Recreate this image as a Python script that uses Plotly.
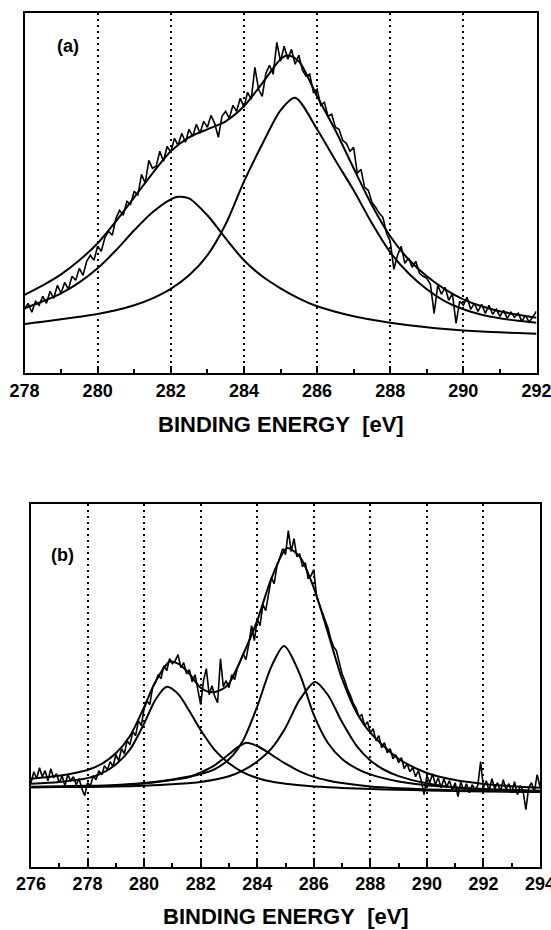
import plotly.graph_objects as go

# ---------------- Panel (a) ----------------
A_C1_X = [278, 278.5, 279, 279.5, 280, 280.5, 281, 281.5, 282, 282.2, 282.5, 283, 283.5, 284, 284.5,
          285, 285.5, 286, 286.5, 287, 287.5, 288, 288.5, 289, 289.5, 290, 290.5, 291, 291.5, 292]
A_C1_Y = [65, 72, 80, 91, 105, 123, 143, 161, 174, 176.5, 175, 158, 135, 113, 97,
          85, 75, 67, 61.5, 57, 53.5, 50.5, 48, 46, 44.2, 42.8, 41.8, 41, 40.3, 39.5]

A_C2_X = [278, 278.5, 279, 279.5, 280, 280.5, 281, 281.5, 282, 282.5, 283, 283.5, 284, 284.5, 285,
          285.4, 286, 286.5, 287, 287.5, 288, 288.5, 289, 289.5, 290, 290.5, 291, 291.5, 292]
A_C2_Y = [49.3, 51.5, 54, 56.5, 59.3, 63, 68, 75, 84.5, 98, 118, 149, 191.6, 229, 263,
          275.6, 244, 213, 183, 150, 121, 100, 84, 72, 64, 58.5, 55, 52.5, 50.5]

A_ENV_X = [278, 278.5, 279, 279.5, 280, 280.5, 281, 281.5, 282, 282.5, 283, 283.5, 284, 284.5, 285,
           285.2, 285.5, 286, 286.5, 287, 287.5, 288, 288.5, 289, 289.5, 290, 290.5, 291, 291.5, 292]
A_ENV_Y = [78.5, 88, 99, 113, 130, 152, 176, 200, 222, 236, 244, 252, 267, 290, 314,
           318, 312, 277, 243, 205, 168, 137, 114, 97, 84, 74, 67, 62, 58.5, 55.5]

A_DATA_X = [round(278 + 0.1 * i, 1) for i in range(141)]
A_DATA_Y = [64, 70, 61, 72, 68, 77, 70, 82, 75, 88,
            80, 91, 84, 97, 93, 105, 98, 112, 118, 113,
            127, 122, 136, 142, 138, 155, 163, 158, 172, 169,
            182, 178, 199, 190, 213, 205, 207, 222, 212, 227,
            221, 235, 228, 240, 231, 244, 237, 249, 240, 252,
            246, 258, 250, 236, 257, 262, 255, 268, 262, 275,
            266, 281, 274, 306, 284, 277, 300, 308, 299, 331,
            312, 327, 314, 324, 309, 318, 303, 297, 299, 281,
            284, 268, 271, 257, 259, 246, 244, 233, 230, 222,
            226, 200, 204, 186, 183, 171, 166, 160, 156, 140,
            132, 104, 118, 127, 110, 115, 106, 112, 100, 97,
            95, 89, 60, 88, 79, 86, 73, 80, 50, 72,
            68, 76, 64, 70, 62, 69, 60, 68, 59, 64,
            57, 63, 55, 61, 56, 60, 52, 58, 51, 56,
            62]

# ---------------- Panel (b) ----------------
B_CA_X = [276, 277, 278, 278.5, 279, 279.5, 280, 280.4, 280.8, 281.2, 281.6, 282, 282.5, 283, 283.5,
          284, 284.5, 285, 285.5, 286, 286.5, 287, 287.5, 288, 289, 290, 291, 292, 293, 294]
B_CA_Y = [83, 84.8, 88.6, 93.4, 102.3, 117.2, 143.1, 167, 179.9, 172.8, 155.7, 136.7, 116.6, 103.4, 94.3,
          88.7, 85.1, 83, 81.4, 80.3, 79.5, 78.8, 78.2, 77.7, 76.9, 76.3, 75.8, 75.3, 74.9, 74.6]

B_CB_X = [276, 277, 278, 279, 280, 280.8, 281.6, 282, 282.5, 283, 283.3, 283.6, 284, 284.5, 285,
          285.5, 286, 286.5, 287, 288, 289, 290, 291, 292, 293, 294]
B_CB_Y = [79.5, 79.7, 80.2, 81.1, 83.1, 85.9, 89.7, 94.2, 101.6, 112.4, 119.4, 123.8, 120.7, 112.1, 103,
          95.4, 89.8, 86.2, 83.6, 80.3, 78.5, 77.3, 76.5, 75.8, 75.3, 74.9]

B_CC_X = [276, 277, 278, 279, 280, 281, 282, 282.5, 283, 283.5, 284, 284.5, 284.95, 285.5, 286,
          286.5, 287, 287.5, 288, 289, 290, 291, 292, 293, 294]
B_CC_Y = [80, 80.4, 80.9, 81.8, 83.7, 87.3, 92.7, 97.6, 107.4, 126.3, 160.2, 200.1, 220.7, 192.9, 151.8,
          123.7, 107.6, 98.4, 92.3, 85.1, 81.4, 79.2, 77.7, 76.7, 76]

B_CD_X = [276, 277, 278, 279, 280, 281, 282, 283, 283.5, 284, 284.5, 285, 285.5, 286.05, 286.5,
          287, 287.5, 288, 288.5, 289, 290, 291, 292, 293, 294]
B_CD_Y = [79.5, 79.6, 79.8, 80.1, 81, 82.4, 84.7, 90.4, 96.3, 105.2, 118.1, 139, 166.9, 184.8, 171.7,
          144.6, 121.4, 106.3, 96.7, 90.6, 83.4, 79.2, 77.2, 76.2, 75.5]

B_ENV_X = [276, 277, 278, 278.5, 279, 279.5, 280, 280.4, 280.9, 281.2, 281.6, 282, 282.4, 282.8, 283,
           283.5, 284, 284.5, 285.05, 285.5, 286, 286.5, 287, 287.5, 288, 289, 290, 291, 292, 293, 294]
B_ENV_Y = [88, 91, 96.7, 102.8, 113.4, 130.7, 159.6, 185, 205, 203, 193, 179, 174.5, 178, 183,
           212, 246, 288, 318.5, 310, 279, 234, 188, 155, 134, 108, 93.7, 86.6, 82.8, 80.5, 79]

B_DATA_X = [round(276 + 0.1 * i, 1) for i in range(181)]
B_DATA_Y = [84, 95, 88, 99, 90, 96, 86, 98, 89, 93,
            84, 91, 81, 92, 86, 90, 82, 88, 78, 71,
            84, 81, 91, 87, 96, 92, 101, 97, 105, 100,
            112, 106, 118, 113, 126, 122, 135, 131, 146, 141,
            158, 166, 162, 179, 184, 192, 188, 201, 196, 208,
            203, 206, 212, 199, 204, 193, 197, 185, 192, 178,
            162, 186, 198, 172, 181, 170, 164, 208, 180, 186,
            179, 192, 187, 199, 205, 213, 207, 222, 241, 226,
            248, 241, 262, 256, 274, 289, 283, 301, 309, 318,
            312, 336, 315, 328, 310, 313, 300, 304, 288, 291,
            297, 270, 262, 255, 246, 239, 228, 220, 216, 204,
            193, 186, 177, 171, 163, 158, 150, 152, 141, 145,
            134, 138, 126, 131, 119, 124, 114, 118, 108, 112,
            104, 109, 98, 103, 95, 99, 90, 96, 86, 72,
            91, 84, 93, 82, 89, 79, 88, 80, 86, 77,
            84, 70, 85, 76, 83, 74, 82, 77, 81, 105,
            79, 86, 76, 88, 78, 84, 75, 87, 77, 83,
            74, 85, 72, 81, 76, 57, 79, 84, 75, 92,
            80]

A_TICKS = [278, 280, 282, 284, 286, 288, 290, 292]
B_TICKS = [276, 278, 280, 282, 284, 286, 288, 290, 292, 294]
AXIS_TITLE = "BINDING ENERGY\u00a0\u00a0[eV]"

W, H = 551, 930
FONT = "Liberation Sans, Arial, Helvetica, sans-serif"

fig = go.Figure()

fit_line = dict(color="black", width=2.0, shape="spline", smoothing=0.8)
data_line = dict(color="black", width=1.6)

for xs, ys in [(A_C1_X, A_C1_Y), (A_C2_X, A_C2_Y), (A_ENV_X, A_ENV_Y)]:
    fig.add_trace(go.Scatter(x=xs, y=ys, mode="lines", line=fit_line, xaxis="x", yaxis="y"))
fig.add_trace(go.Scatter(x=A_DATA_X, y=A_DATA_Y, mode="lines", line=data_line, xaxis="x", yaxis="y"))

for xs, ys in [(B_CA_X, B_CA_Y), (B_CB_X, B_CB_Y), (B_CC_X, B_CC_Y), (B_CD_X, B_CD_Y), (B_ENV_X, B_ENV_Y)]:
    fig.add_trace(go.Scatter(x=xs, y=ys, mode="lines", line=fit_line, xaxis="x2", yaxis="y2"))
fig.add_trace(go.Scatter(x=B_DATA_X, y=B_DATA_Y, mode="lines", line=data_line, xaxis="x2", yaxis="y2"))


def xaxis(rng, ticks, dom, anchor):
    return dict(
        domain=dom, range=rng, anchor=anchor, automargin=False,
        tickmode="array", tickvals=ticks, ticktext=[str(t) for t in ticks],
        ticks="inside", ticklen=7, tickwidth=2, tickcolor="black",
        ticklabeloverflow="allow",
        minor=dict(ticks="inside", dtick=1, tick0=rng[0] + 1, ticklen=4, tickwidth=2,
                   tickcolor="black", showgrid=False),
        showline=True, linecolor="black", linewidth=2, mirror=True,
        showgrid=True, gridcolor="black", gridwidth=1.5, griddash="2px,4px",
        zeroline=False,
        tickfont=dict(family=FONT, size=18, color="black", weight="bold"),
        fixedrange=True,
    )


def yaxis(rng, dom, anchor):
    return dict(
        domain=dom, range=rng, anchor=anchor, automargin=False,
        showticklabels=False, ticks="", showgrid=False, zeroline=False,
        showline=True, linecolor="black", linewidth=2, mirror=True,
        fixedrange=True,
    )


fig.update_layout(
    width=W, height=H,
    margin=dict(l=0, r=0, t=0, b=0, autoexpand=False),
    paper_bgcolor="white", plot_bgcolor="white",
    showlegend=False,
    xaxis=xaxis([278, 292], A_TICKS, [24.5 / W, 536.5 / W], "y"),
    yaxis=yaxis([0, 360], [1 - 373.3 / H, 1 - 13.3 / H], "x"),
    xaxis2=xaxis([276, 294], B_TICKS, [31 / W, 540 / W], "y2"),
    yaxis2=yaxis([0, 363.2], [1 - 866.7 / H, 1 - 503.5 / H], "x2"),
    annotations=[
        dict(text="(a)", x=68 / W, y=1 - 46 / H, xref="paper", yref="paper",
             showarrow=False, xanchor="center", yanchor="middle",
             font=dict(family=FONT, size=18, color="black", weight="bold")),
        dict(text="(b)", x=62 / W, y=1 - 554.5 / H, xref="paper", yref="paper",
             showarrow=False, xanchor="center", yanchor="middle",
             font=dict(family=FONT, size=18, color="black", weight="bold")),
        dict(text=AXIS_TITLE, x=280.5 / W, y=1 - 424 / H, xref="paper", yref="paper",
             showarrow=False, xanchor="center", yanchor="middle",
             font=dict(family=FONT, size=22, color="black", weight="bold")),
        dict(text=AXIS_TITLE, x=285.5 / W, y=1 - 916 / H, xref="paper", yref="paper",
             showarrow=False, xanchor="center", yanchor="middle",
             font=dict(family=FONT, size=22, color="black", weight="bold")),
    ],
)

fig.write_html("out.html")
